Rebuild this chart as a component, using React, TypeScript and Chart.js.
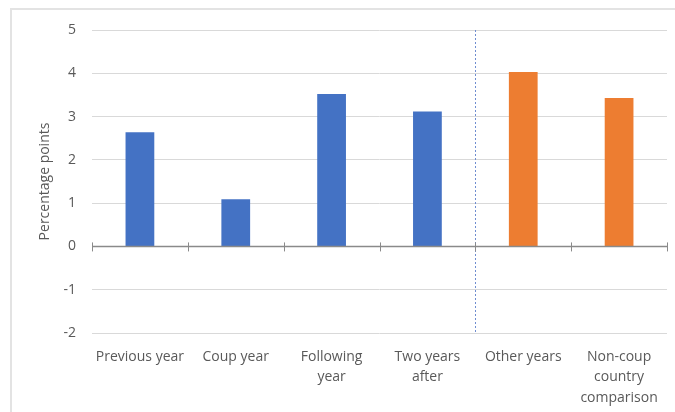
import React, { useEffect, useRef } from "react";
import { Chart, registerables } from "chart.js";

Chart.register(...registerables);

const categories: (string | string[])[] = [
  "Previous year",
  "Coup year",
  ["Following", "year"],
  ["Two years", "after"],
  "Other years",
  ["Non-coup", "country", "comparison"],
];
const values = [2.64, 1.09, 3.52, 3.12, 4.03, 3.43];
const barColors = ["#4472C4", "#4472C4", "#4472C4", "#4472C4", "#ED7D31", "#ED7D31"];
const yTicks = [-2, -1, 0, 1, 2, 3, 4, 5];
const yTitle = "Percentage points";
const dividerAfterIndex = 3;

const FONT = "'Open Sans', 'Liberation Sans', sans-serif";

const axisPlugin = {
  id: "zeroAxisAndDivider",
  afterDatasetsDraw(chart: any) {
    const { ctx, chartArea, scales } = chart;
    const x = scales.x;
    const y = scales.y;
    const y0 = y.getPixelForValue(0);
    ctx.save();
    // dotted divider
    const dx = Math.round(x.getPixelForValue(dividerAfterIndex + 0.5)) + 0.5;
    ctx.strokeStyle = "#6F8DD0";
    ctx.lineWidth = 1;
    ctx.setLineDash([2, 2]);
    ctx.beginPath();
    ctx.moveTo(dx, chartArea.top);
    ctx.lineTo(dx, chartArea.bottom);
    ctx.stroke();
    ctx.setLineDash([]);
    // zero axis
    ctx.strokeStyle = "#8A8A8A";
    ctx.lineWidth = 1.5;
    ctx.beginPath();
    ctx.moveTo(chartArea.left, y0);
    ctx.lineTo(chartArea.right, y0);
    ctx.stroke();
    ctx.lineWidth = 1;
    for (let i = 0; i <= categories.length; i++) {
      const tx = Math.round(x.getPixelForValue(i - 0.5)) + 0.5;
      ctx.beginPath();
      ctx.moveTo(tx, y0 - 4);
      ctx.lineTo(tx, y0 + 5);
      ctx.stroke();
    }
    ctx.restore();
  },
};

export default function App() {
  const ref = useRef<HTMLCanvasElement>(null);
  useEffect(() => {
    document.body.style.margin = "0";
    if (!ref.current) return;
    const chart = new Chart(ref.current, {
      type: "bar",
      data: {
        labels: categories,
        datasets: [
          {
            data: values,
            backgroundColor: barColors,
            barPercentage: 0.3,
            categoryPercentage: 1,
          },
        ],
      },
      options: {
        animation: false,
        responsive: false,
        devicePixelRatio: 1,
        layout: { padding: { top: 30, right: 8, left: 0, bottom: 0 } },
        plugins: { legend: { display: false }, tooltip: { enabled: false } },
        scales: {
          x: {
            grid: { display: false, drawTicks: false },
            border: { display: false },
            ticks: {
              color: "#595959",
              font: { family: FONT, size: 14, lineHeight: 1.45 },
              padding: 14,
              maxRotation: 0,
              autoSkip: false,
            },
            afterFit: (s: any) => {
              s.height = 412 - 333;
            },
          },
          y: {
            min: -2,
            max: 5,
            afterBuildTicks: (s: any) => {
              s.ticks = yTicks.map((v) => ({ value: v }));
            },
            grid: { color: "#D9D9D9", drawTicks: false, lineWidth: 1 },
            border: { display: false },
            ticks: {
              color: "#595959",
              font: { family: FONT, size: 14 },
              padding: 16,
            },
            title: {
              display: true,
              text: yTitle,
              color: "#595959",
              font: { family: FONT, size: 14 },
              padding: { top: 37, bottom: 0 },
            },
            afterFit: (s: any) => {
              s.width = 92;
            },
          },
        },
      },
      plugins: [axisPlugin],
    });
    return () => chart.destroy();
  }, []);
  return (
    <div style={{ position: "relative", width: 675, height: 412, background: "#fff" }}>
      <div
        style={{
          position: "absolute",
          left: 10,
          top: 8,
          width: 675 - 10,
          height: 412 - 8,
          borderLeft: "2px solid #E3E3E3",
          borderTop: "2px solid #E3E3E3",
          boxSizing: "border-box",
        }}
      />
      <canvas ref={ref} width={675} height={412} style={{ position: "absolute", left: 0, top: 0 }} />
    </div>
  );
}
